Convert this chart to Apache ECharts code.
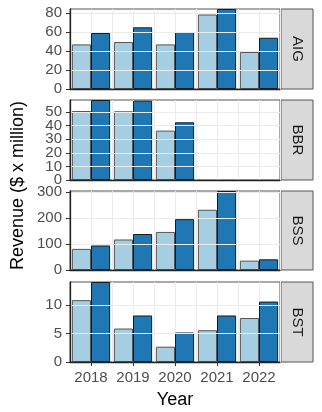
<!DOCTYPE html>
<html><head><meta charset="utf-8">
<script src="https://cdn.jsdelivr.net/npm/echarts@6/dist/echarts.min.js"></script>
<style>html,body{margin:0;padding:0;background:#fff}#c{width:322px;height:412px}</style>
</head><body><div id="c"></div>
<script>
const years = ['2018','2019','2020','2021','2022'];
const facets = ['AIG','BBR','BSS','BST'];
const aigLight = [47, 49.5, 47, 78.5, 39];
const aigDark  = [59, 65, 60, 84.3, 54];
const bbrLight = [50.7, 50.5, 36.3, null, null];
const bbrDark  = [58.8, 58.3, 42.4, null, null];
const bssLight = [81, 117, 146, 231, 36];
const bssDark  = [94, 138, 195, 303, 41];
const bstLight = [10.9, 5.9, 2.7, 5.6, 7.75];
const bstDark  = [14.1, 8.2, 5.2, 8.2, 10.65];
const aigTicks = [0, 20, 40, 60, 80];
const bbrTicks = [0, 10, 20, 30, 40, 50];
const bssTicks = [0, 100, 200, 300];
const bstTicks = [0, 5, 10];

const lightVals = [aigLight, bbrLight, bssLight, bstLight];
const darkVals = [aigDark, bbrDark, bssDark, bstDark];
const tickVals = [aigTicks, bbrTicks, bssTicks, bstTicks];
const gridStep = [10, 5, 50, 2.5];

const FONT = 'Liberation Sans, Arial, sans-serif';
const tops = [9, 100, 191, 282];
const heights = [80, 80, 79, 80];
const LEFT = 70, WIDTH = 210;

const grids = [], xAxes = [], yAxes = [], series = [], graphics = [];
facets.forEach((f, i) => {
  const isLast = i === facets.length - 1;
  grids.push({left: LEFT, width: WIDTH, top: tops[i], height: heights[i], show: true,
    borderColor: '#555', borderWidth: 1, backgroundColor: '#fff'});
  xAxes.push({type: 'category', gridIndex: i, data: years, position: 'bottom',
    axisLine: {show: true, lineStyle: {color: '#222', width: 1.3}},
    axisTick: {show: isLast, alignWithLabel: true, interval: 0, length: 4, lineStyle: {color: '#333', width: 1}},
    axisLabel: {show: isLast, interval: 0, hideOverlap: false, color: '#4d4d4d', fontSize: 15, fontFamily: FONT, margin: 8},
    splitLine: {show: false}, z: 5});
  xAxes.push({type: 'value', gridIndex: i, min: 0.5, max: 5.5, interval: 0.5,
    axisLine: {show: false}, axisTick: {show: false}, axisLabel: {show: false},
    splitLine: {show: true, lineStyle: {color: '#ebebeb', width: 1}}});
  const all = lightVals[i].concat(darkVals[i]).filter(v => v != null);
  const yMax = Math.max(...all);
  const evenTicks = tickVals[i].filter((v, k) => k % 2 === 0);
  const oddTicks = tickVals[i].filter((v, k) => k % 2 === 1);
  const mainIdx = yAxes.length;
  yAxes.push({type: 'value', gridIndex: i, min: 0, max: yMax, interval: gridStep[i],
    axisLine: {show: true, lineStyle: {color: '#222', width: 1.3}},
    axisTick: {show: true, length: 4, customValues: tickVals[i], lineStyle: {color: '#333'}},
    axisLabel: {color: '#4d4d4d', fontSize: 15, fontFamily: FONT, margin: 8, customValues: evenTicks,
      hideOverlap: false},
    splitLine: {show: true, lineStyle: {color: '#ebebeb', width: 1}}, z: 5});
  yAxes.push({type: 'value', gridIndex: i, min: 0, max: yMax, interval: gridStep[i], position: 'left', offset: 0,
    axisLine: {show: false}, axisTick: {show: false}, splitLine: {show: false},
    axisLabel: {color: '#4d4d4d', fontSize: 15, fontFamily: FONT, margin: 8, customValues: oddTicks,
      hideOverlap: false}, z: 5});
  series.push({type: 'bar', xAxisIndex: 2 * i, yAxisIndex: mainIdx, data: lightVals[i],
    barGap: '0%', barCategoryGap: '9%',
    itemStyle: {color: '#a6cee3', borderColor: '#555', borderWidth: 1}});
  series.push({type: 'bar', xAxisIndex: 2 * i, yAxisIndex: mainIdx, data: darkVals[i],
    barGap: '0%', barCategoryGap: '9%',
    itemStyle: {color: '#1f78b4', borderColor: '#1a1a1a', borderWidth: 1}});
  graphics.push({type: 'rect', shape: {x: 281, y: tops[i], width: 32, height: heights[i]},
    style: {fill: '#d9d9d9', stroke: '#555', lineWidth: 1}});
  graphics.push({type: 'text', x: 297, y: tops[i] + heights[i] / 2, rotation: -Math.PI / 2,
    style: {text: f, fill: '#1a1a1a', font: '15px ' + FONT, textAlign: 'center', textVerticalAlign: 'middle'}});
});
graphics.push({type: 'text', x: 18, y: 185.5, rotation: Math.PI / 2,
  style: {text: 'Revenue ($ x million)', fill: '#000', font: '18px ' + FONT, textAlign: 'center', textVerticalAlign: 'middle'}});
graphics.push({type: 'text', x: 175, y: 400,
  style: {text: 'Year', fill: '#000', font: '18px ' + FONT, textAlign: 'center', textVerticalAlign: 'middle'}});

const chart = echarts.init(document.getElementById('c'), null, {renderer: 'canvas'});
chart.setOption({animation: false, backgroundColor: '#fff', grid: grids, xAxis: xAxes, yAxis: yAxes,
  series: series, graphic: graphics});
</script></body></html>
